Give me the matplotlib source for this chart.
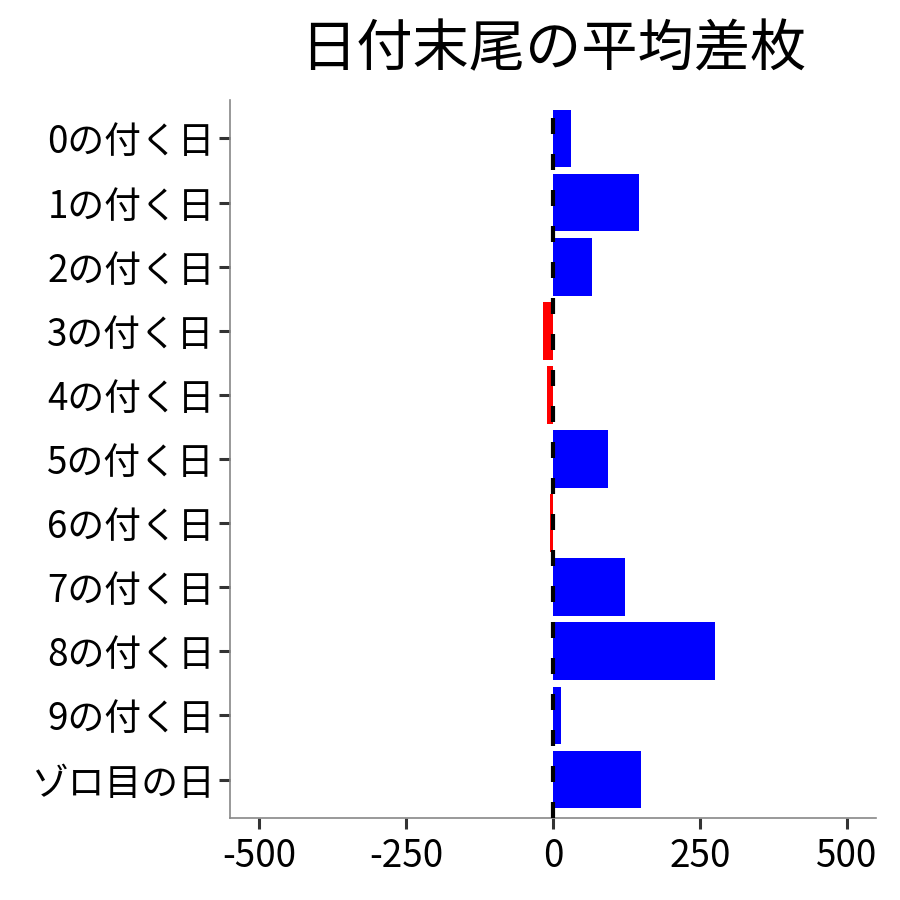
import matplotlib
matplotlib.use("Agg")
import matplotlib.pyplot as plt

plt.rcParams['font.family'] = ['Noto Sans CJK JP', 'DejaVu Sans']
plt.rcParams['axes.unicode_minus'] = False

categories = ["0の付く日", "1の付く日", "2の付く日", "3の付く日", "4の付く日",
              "5の付く日", "6の付く日", "7の付く日", "8の付く日", "9の付く日", "ゾロ目の日"]
values = [30, 147, 66, -17, -10, 93, -5, 122, 276, 13, 149]
x_ticks = [-500, -250, 0, 250, 500]
title = "日付末尾の平均差枚"

fig = plt.figure(figsize=(9, 9), dpi=100)
ax = fig.add_axes([230/900, 1-818/900, (876-230)/900, (818-100)/900])

n = len(categories)
ypos = list(range(n))[::-1]
colors = ["#0000FF" if v >= 0 else "#FF0000" for v in values]
ax.barh(ypos, values, height=0.9, color=colors, zorder=2)
ax.axvline(0, color="black", lw=3, linestyle=(0, (3.84, 4.8)), zorder=3)

ax.set_xlim(-550, 550)
ax.set_ylim(-0.6, n - 1 + 0.6)
ax.set_xticks(x_ticks)
ax.set_xticklabels([str(t) for t in x_ticks])
ax.set_yticks(ypos)
ax.set_yticklabels(categories)

for s in ["top", "right"]:
    ax.spines[s].set_visible(False)
for s in ["left", "bottom"]:
    ax.spines[s].set_color("#888888")
    ax.spines[s].set_linewidth(1.2)

ax.tick_params(axis="both", colors="#333333", labelcolor="black", length=8, width=2.2,
               labelsize=26.5, pad=3)
ax.tick_params(axis="x", pad=6)

ax.set_title(title, fontsize=40.5, pad=24)

fig.savefig("out.png", dpi=100)
